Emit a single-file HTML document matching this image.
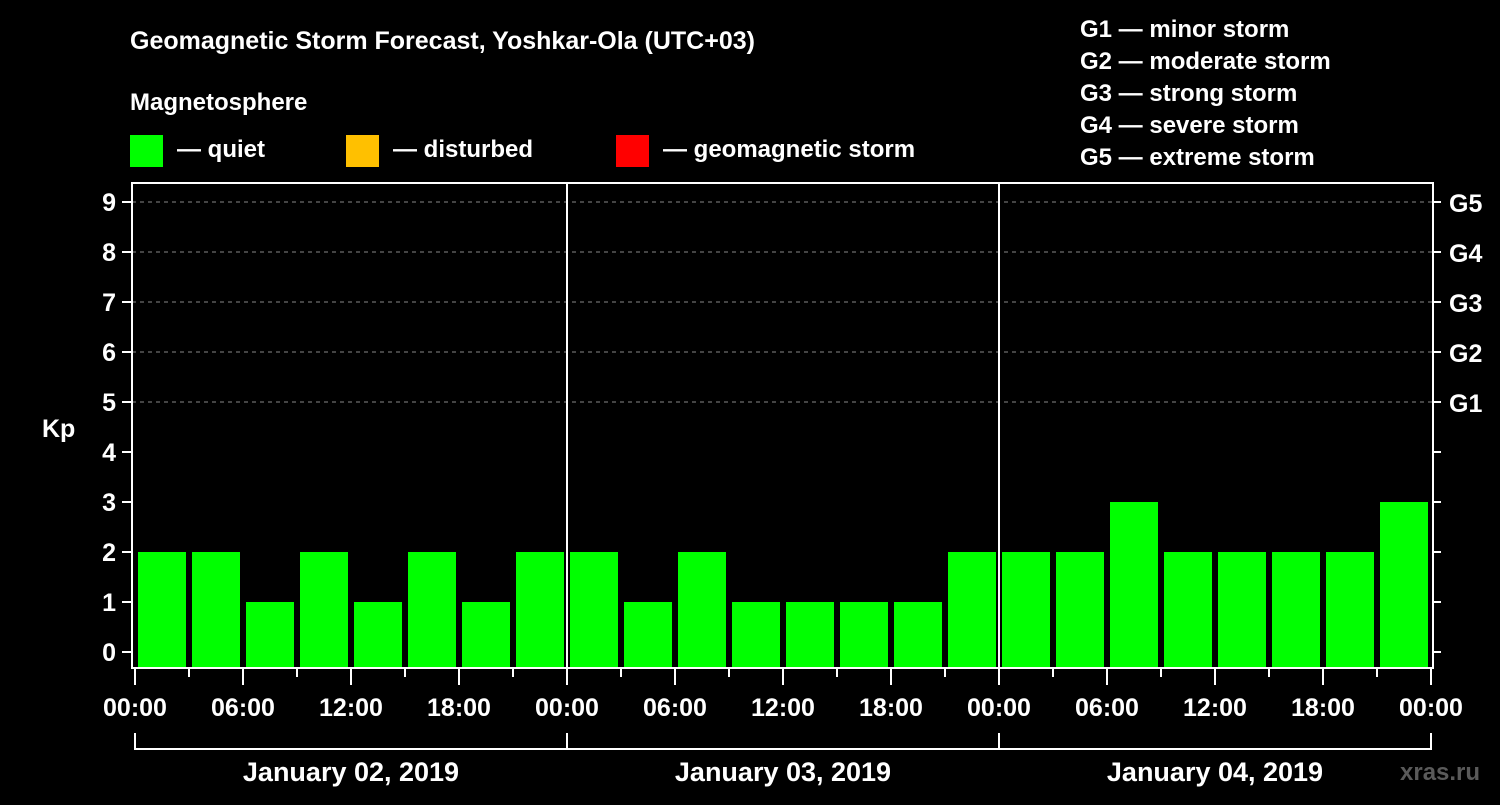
<!DOCTYPE html>
<html><head><meta charset="utf-8"><style>
body{margin:0;background:#000;width:1500px;height:800px;overflow:hidden}
svg text{font-family:"Liberation Sans",Arial,sans-serif;font-weight:bold;fill:#fff}
</style></head><body>
<svg width="1500" height="800" xmlns="http://www.w3.org/2000/svg">
<rect width="1500" height="800" fill="#000"/>
<text x="130" y="49" font-size="25">Geomagnetic Storm Forecast, Yoshkar-Ola (UTC+03)</text>
<text x="130" y="110" font-size="24">Magnetosphere</text>
<g><rect x="130" y="135" width="33" height="32" fill="#00ff00"/><text x="177" y="157" font-size="24">— quiet</text></g>
<g><rect x="346" y="135" width="33" height="32" fill="#ffc000"/><text x="393" y="157" font-size="24">— disturbed</text></g>
<g><rect x="616" y="135" width="33" height="32" fill="#ff0000"/><text x="663" y="157" font-size="24">— geomagnetic storm</text></g>
<g font-size="24">
<text x="1080" y="37">G1 — minor storm</text>
<text x="1080" y="69">G2 — moderate storm</text>
<text x="1080" y="101">G3 — strong storm</text>
<text x="1080" y="133">G4 — severe storm</text>
<text x="1080" y="165">G5 — extreme storm</text>
</g>
<text x="42" y="437" font-size="25">Kp</text>
<text x="1400" y="780" font-size="24" fill="#555" style="fill:#5a5a5a">xras.ru</text>
<g id="plot"></g>
</svg>
<script>
const kpValues=[2,2,1,2,1,2,1,2, 2,1,2,1,1,1,1,2, 2,2,3,2,2,2,2,3];
const dayLabels=["January 02, 2019","January 03, 2019","January 04, 2019"];
const hourLabels=["00:00","06:00","12:00","18:00"];
const yTicks=[0,1,2,3,4,5,6,7,8,9];
const gLabels=["G1","G2","G3","G4","G5"];
const NS="http://www.w3.org/2000/svg";
const plot=document.getElementById('plot');
const L=132,R=1433,T=183,B=668,X0=135;
const yS=v=>652-v*50;
const xS=h=>X0+h*18;
function mk(t,a,p){const e=document.createElementNS(NS,t);for(const k in a)e.setAttribute(k,a[k]);(p||plot).appendChild(e);return e;}
// grid
[5,6,7,8,9].forEach(v=>{const g=mk('line',{x1:L,x2:R,y1:yS(v),y2:yS(v),stroke:'#888','stroke-dasharray':'4,4','stroke-width':1});

});
// bars
kpValues.forEach((v,i)=>{const c=v>=5?'#ff0000':(v>=4?'#ffc000':'#00ff00');
const x=xS(i*3)+3;const r=mk('rect',{x:x,y:yS(v),width:48,height:B-yS(v),fill:c});

});
// day separators
for(let d=1;d<dayLabels.length;d++){const l=mk('line',{x1:xS(d*24),x2:xS(d*24),y1:T,y2:B,stroke:'#fff','stroke-width':2});

}
// frame
const f=mk('rect',{x:L,y:T,width:R-L,height:B-T,fill:'none',stroke:'#fff','stroke-width':2});


// y ticks
yTicks.forEach(v=>{mk('line',{x1:122,x2:L,y1:yS(v),y2:yS(v),stroke:'#fff','stroke-width':2});
mk('line',{x1:R,x2:1441,y1:yS(v),y2:yS(v),stroke:'#fff','stroke-width':2});
const t=mk('text',{x:116,y:yS(v)+9,'font-size':25,'text-anchor':'end'});t.textContent=v;

});
gLabels.forEach((g,i)=>{const t=mk('text',{x:1449,y:yS(5+i)+10,'font-size':25});t.textContent=g;

});
// x ticks
const nH=dayLabels.length*24;
for(let h=0;h<=nH;h+=3){const major=h%6===0;mk('line',{x1:xS(h),x2:xS(h),y1:B,y2:major?685:677,stroke:'#fff','stroke-width':2});
if(major){const t=mk('text',{x:xS(h),y:716,'font-size':25,'text-anchor':'middle'});t.textContent=hourLabels[(h%24)/6];

}}
// day brackets
dayLabels.forEach((d,i)=>{const a=xS(i*24),b=xS(i*24+24);
mk('path',{d:`M${a},733V749H${b}V733`,fill:'none',stroke:'#fff','stroke-width':2});
const t=mk('text',{x:(a+b)/2,y:781,'font-size':27,'text-anchor':'middle'});t.textContent=d;

});
</script>
</body></html>
